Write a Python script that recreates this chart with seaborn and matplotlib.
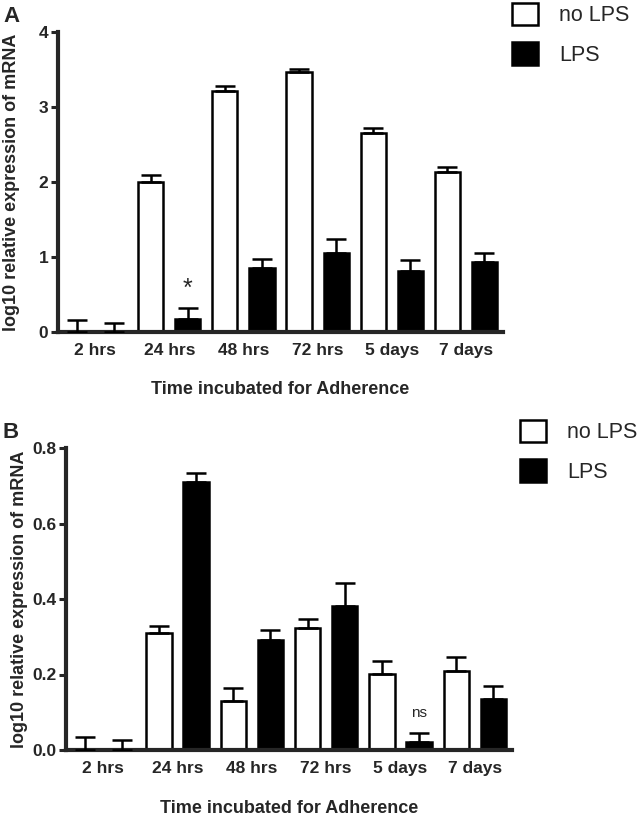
import numpy as np
import pandas as pd
import seaborn as sns
import matplotlib.pyplot as plt
from matplotlib.patches import Patch

# Données (moyenne + erreur vers le haut)
times = ["2 hrs", "24 hrs", "48 hrs", "72 hrs", "5 days", "7 days"]
conditions = ["no LPS", "LPS"]

# Panneau A
no_lps_a = [0.0, 2.00, 3.22, 3.47, 2.65, 2.14]
no_lps_a_err = [0.16, 0.10, 0.06, 0.04, 0.07, 0.06]
lps_a = [0.0, 0.18, 0.85, 1.06, 0.81, 0.94]
lps_a_err = [0.12, 0.14, 0.12, 0.18, 0.15, 0.12]

# Panneau B
no_lps_b = [0.0, 0.310, 0.131, 0.324, 0.202, 0.208]
no_lps_b_err = [0.034, 0.018, 0.034, 0.023, 0.033, 0.038]
lps_b = [0.0, 0.711, 0.292, 0.382, 0.022, 0.135]
lps_b_err = [0.027, 0.024, 0.026, 0.060, 0.024, 0.034]

sns.set_style("ticks")
plt.rcParams['font.family'] = ['Liberation Sans', 'DejaVu Sans']

W, H = 641, 819
fig = plt.figure(figsize=(W / 100, H / 100), dpi=100)


def panel(rect, no_lps, no_err, lps, lps_err, ylim, yticks, yfmt, letter, note, note_idx):
    left, top, right, bottom = rect
    ax = fig.add_axes([left / W, 1 - bottom / H, (right - left) / W, (bottom - top) / H])
    df = pd.DataFrame({
        "time": times * 2,
        "cond": ["no LPS"] * 6 + ["LPS"] * 6,
        "val": list(no_lps) + list(lps),
    })
    sns.barplot(data=df, x="time", y="val", hue="cond", hue_order=conditions,
                palette={"no LPS": "white", "LPS": "black"}, edgecolor="black",
                linewidth=1.8, width=1.0, gap=0.32, errorbar=None, legend=False, ax=ax)
    # barres d'erreur vers le haut seulement
    for cont, err in zip(ax.containers, [no_err, lps_err]):
        xs = [p.get_x() + p.get_width() / 2 for p in cont.patches]
        ys = [p.get_height() for p in cont.patches]
        ax.errorbar(xs, ys, yerr=[np.zeros(len(err)), err], fmt="none", ecolor="black",
                    elinewidth=1.8, capsize=7, capthick=1.8, zorder=5)
    # annotation au-dessus d'une barre LPS
    p = ax.containers[1].patches[note_idx]
    ax.annotate(note, (p.get_x() + p.get_width() / 2, p.get_height() + lps_err[note_idx]),
                xytext=(0, 14), textcoords="offset points", ha="center", va="center",
                fontsize=18 if note == "*" else 11)

    ax.set_xlim(-0.5, 5.5)
    ax.set_ylim(*ylim)
    ax.set_yticks(yticks)
    ax.set_yticklabels([yfmt.format(t) for t in yticks], fontweight="bold", fontsize=12.5)
    ax.set_xticks(range(len(times)))
    ax.set_xticklabels(times, fontweight="bold", fontsize=12.5)
    ax.tick_params(axis="x", length=0, pad=8)
    ax.tick_params(axis="y", length=5, width=2.2, pad=2)
    sns.despine(ax=ax)
    for s in ["left", "bottom"]:
        ax.spines[s].set_linewidth(3)
    ax.set_xlabel("Time incubated for Adherence", fontweight="bold", fontsize=13)
    ax.set_ylabel("log10 relative expression of mRNA", fontweight="bold", fontsize=13)
    ax.yaxis.set_label_coords(-38 / (right - left), 0.5)
    ax.xaxis.set_label_coords(0.5, -0.165)
    fig.text(3 / W, 1 - (top - 26) / H, letter, fontweight="bold", fontsize=16, va="top")
    return ax


axA = panel((58, 32, 503, 332), no_lps_a, no_lps_a_err, lps_a, lps_a_err,
            (0, 4), [0, 1, 2, 3, 4], "{:.0f}", "A", "*", 1)
axB = panel((66, 448, 512, 750), no_lps_b, no_lps_b_err, lps_b, lps_b_err,
            (0, 0.8), [0, 0.2, 0.4, 0.6, 0.8], "{:.1f}", "B", "ns", 4)

handles = [Patch(facecolor="white", edgecolor="black", linewidth=1.8),
           Patch(facecolor="black", edgecolor="black", linewidth=1.8)]
for ax, (lx, ly) in [(axA, (512, 3)), (axB, (520, 420))]:
    ax.legend(handles, conditions, loc="upper left", bbox_to_anchor=(lx / W, 1 - ly / H),
              bbox_transform=fig.transFigure, frameon=False, fontsize=15.5,
              handlelength=1.2, handleheight=1.2, handletextpad=1.0, labelspacing=0.75,
              borderpad=0, borderaxespad=0)

fig.savefig("out.png", dpi=100)
